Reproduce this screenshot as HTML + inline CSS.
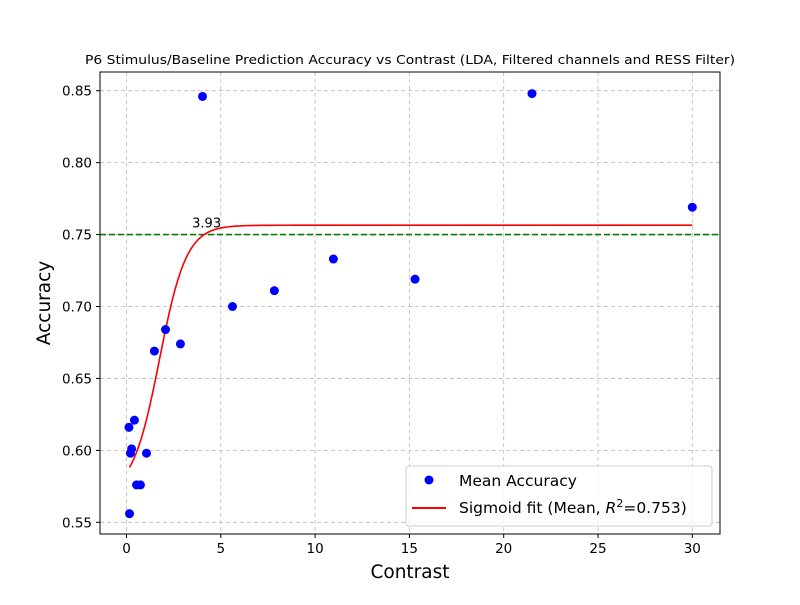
<!DOCTYPE html>
<html><head><meta charset="utf-8"><style>
body{margin:0;background:#fff}
svg{font-family:"DejaVu Sans","Liberation Sans",sans-serif}
</style></head><body>
<svg id="c" width="800" height="600" xmlns="http://www.w3.org/2000/svg">
<rect width="800" height="600" fill="#fff"/>
<g id="grid"></g><g id="ticks"></g><g id="marks"></g>
<rect x="100" y="72" width="620" height="462" fill="none" stroke="#000" stroke-width="1"/>
<text x="410" y="64" font-size="12.5" text-anchor="middle" textLength="650" lengthAdjust="spacingAndGlyphs">P6 Stimulus/Baseline Prediction Accuracy vs Contrast (LDA, Filtered channels and RESS Filter)</text>
<text x="410" y="578" font-size="18.5" text-anchor="middle">Contrast</text>
<text transform="translate(50,303) rotate(-90)" font-size="18.5" text-anchor="middle">Accuracy</text>
<g>
<rect x="406" y="466" width="306" height="60" rx="3" fill="#fff" fill-opacity="0.8" stroke="#ccc"/>
<circle cx="429" cy="480" r="4.5" fill="#0000ff"/>
<text x="459" y="486" font-size="15.5">Mean Accuracy</text>
<line x1="412" y1="508" x2="446" y2="508" stroke="#f00" stroke-width="2"/>
<text x="459" y="513" font-size="15.5">Sigmoid fit (Mean, <tspan font-style="italic">R</tspan><tspan dy="-6" font-size="11">2</tspan><tspan dy="6">=0.753)</tspan></text>
</g>
</svg>
<script>
const contrast=[0.13,0.42,0.27,0.21,1.06,0.53,0.74,0.16,1.48,2.07,2.86,4.03,5.62,7.84,10.97,15.3,21.5,30];
const accuracy=[0.616,0.621,0.601,0.598,0.598,0.576,0.576,0.556,0.669,0.684,0.674,0.846,0.700,0.711,0.733,0.719,0.848,0.769];
const xTicks=[0,5,10,15,20,25,30];
const yTicks=[0.55,0.60,0.65,0.70,0.75,0.80,0.85];
const fitParams=[0.57,0.1865,1.40,1.75];
const threshold=[0.75];
const thresholdX=[3.93];
const ns="http://www.w3.org/2000/svg";
const X=v=>126.5+v*18.86, Y=v=>90.7-(v-0.85)*1438.7;
function mk(t,a,p){const e=document.createElementNS(ns,t);for(const k in a)e.setAttribute(k,a[k]);document.getElementById(p).appendChild(e);return e;}
xTicks.forEach(t=>{
 let g=mk('line',{x1:X(t),x2:X(t),y1:72,y2:534,stroke:'#bbb','stroke-dasharray':'4,3','stroke-width':0.8},'grid');
 
 
 mk('line',{x1:X(t),x2:X(t),y1:534,y2:538,stroke:'#000'},'ticks');
 let l=mk('text',{x:X(t),y:553,'font-size':13.5,'text-anchor':'middle'},'ticks');l.textContent=t;
 
 
});
yTicks.forEach(t=>{
 let g=mk('line',{x1:100,x2:720,y1:Y(t),y2:Y(t),stroke:'#bbb','stroke-dasharray':'4,3','stroke-width':0.8},'grid');
 
 
 mk('line',{x1:96,x2:100,y1:Y(t),y2:Y(t),stroke:'#000'},'ticks');
 let l=mk('text',{x:92,y:Y(t)+5,'font-size':13.5,'text-anchor':'end'},'ticks');l.textContent=t.toFixed(2);
 
 
});
let th=mk('line',{x1:100,x2:720,y1:Y(threshold[0]),y2:Y(threshold[0]),stroke:'#008000','stroke-width':1.6,'stroke-dasharray':'6,3'},'marks');


const [a,b,k,x0]=fitParams;
let d='';for(let i=0;i<=600;i++){const x=0.16+(30-0.16)*i/600;const y=a+b/(1+Math.exp(-k*(x-x0)));d+=(i?'L':'M')+X(x).toFixed(2)+','+Y(y).toFixed(2);}
let fit=mk('path',{d:d,fill:'none',stroke:'#f00','stroke-width':1.6},'marks');


let tl=mk('text',{x:X(thresholdX[0])+6,y:Y(threshold[0])-7,'font-size':13,'text-anchor':'middle'},'marks');tl.textContent=thresholdX[0].toFixed(2);


contrast.forEach((c,i)=>{
 let p=mk('circle',{cx:X(c),cy:Y(accuracy[i]),r:4.5,fill:'#0000ff'},'marks');
 
 
});
</script>
</body></html>
